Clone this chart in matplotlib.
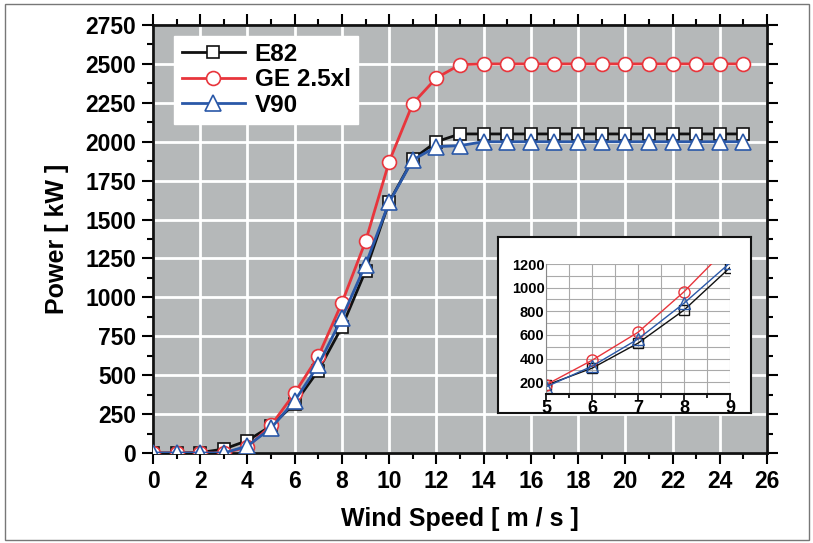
import numpy as np
import matplotlib.pyplot as plt
from matplotlib.patches import Rectangle
from matplotlib.ticker import MultipleLocator

plt.rcParams['font.family'] = ['Liberation Sans', 'DejaVu Sans']
plt.rcParams['font.weight'] = 'bold'

# wind speed [m/s]
wind = list(range(0, 26))

# power curves [kW]
e82 = [0, 0, 3, 25, 80, 174, 318, 530, 810, 1170, 1612, 1888, 2000, 2050,
       2050, 2050, 2050, 2050, 2050, 2050, 2050, 2050, 2050, 2050, 2050, 2050]
ge25 = [0, 0, 0, 0, 38, 178, 385, 622, 965, 1360, 1872, 2245, 2410, 2495,
        2500, 2500, 2500, 2500, 2500, 2500, 2500, 2500, 2500, 2500, 2500, 2500]
v90 = [0, 0, 0, 0, 45, 160, 335, 565, 868, 1210, 1610, 1883, 1968, 1975,
       2000, 2000, 2000, 2000, 2000, 2000, 2000, 2000, 2000, 2000, 2000, 2000]

black = '#111111'
red = '#e8353c'
blue = '#2a58a8'
bg = '#b5b8b9'

fig = plt.figure(figsize=(8.13, 5.43), dpi=100)
fig.patches.append(Rectangle((5 / 813, 3 / 543), 804 / 813, 536 / 543,
                             transform=fig.transFigure, fill=False,
                             edgecolor='#777777', lw=1))

ax = fig.add_axes([153 / 813, 90 / 543, 614 / 813, 428 / 543])
ax.set_facecolor(bg)

ax.plot(wind, e82, color=black, lw=2, marker='s', ms=9, mfc='white',
        mec=black, mew=1.2, label='E82', zorder=3)
ax.plot(wind, ge25, color=red, lw=2, marker='o', ms=10, mfc='white',
        mec=red, mew=1.2, label='GE 2.5xl', zorder=3)
ax.plot(wind, v90, color=blue, lw=2, marker='^', ms=12, mfc='white',
        mec=blue, mew=1.2, label='V90', zorder=4)

ax.set_xlim(0, 26)
ax.set_ylim(0, 2750)
ax.xaxis.set_major_locator(MultipleLocator(2))
ax.xaxis.set_minor_locator(MultipleLocator(1))
ax.yaxis.set_major_locator(MultipleLocator(250))
ax.yaxis.set_minor_locator(MultipleLocator(125))
ax.grid(True, which='major', color='white', lw=2)
ax.set_axisbelow(True)
for s in ax.spines.values():
    s.set_linewidth(2)
    s.set_color(black)
ax.tick_params(which='major', direction='out', length=8, width=1.5,
               labelsize=16.5, pad=4, top=True, right=True)
ax.tick_params(which='minor', direction='out', length=4, width=1.5,
               top=True, right=True)
ax.tick_params(which='both', axis='both', labeltop=False, labelright=False)
for lab in ax.get_xticklabels() + ax.get_yticklabels():
    lab.set_fontweight('bold')

ax.set_xlabel('Wind Speed [ m / s ]', fontsize=18, fontweight='bold', labelpad=10)
ax.set_ylabel('Power [ kW ]', fontsize=18, fontweight='bold', labelpad=12)

leg = ax.legend(loc='upper left', bbox_to_anchor=(0.035, 0.975), fontsize=17.5,
                frameon=True, fancybox=False, framealpha=1, edgecolor='white',
                handlelength=2.6, handletextpad=0.4, borderpad=0.3,
                labelspacing=0.1, borderaxespad=0)
for t in leg.get_texts():
    t.set_fontweight('bold')

# inset
box = fig.add_axes([498 / 813, (543 - 413) / 543, 253 / 813, 176 / 543])
box.set_facecolor('white')
box.set_xticks([])
box.set_yticks([])
for s in box.spines.values():
    s.set_linewidth(1.5)
    s.set_color(black)
box.set_zorder(5)

ins = fig.add_axes([546 / 813, (543 - 394) / 543, 184 / 813, 130 / 543])
ins.set_zorder(6)
ins.set_facecolor('white')
ins.plot(wind, e82, color=black, lw=1, marker='s', ms=7, mfc='none', mec=black, mew=1)
ins.plot(wind, ge25, color=red, lw=1, marker='o', ms=8, mfc='none', mec=red, mew=1)
ins.plot(wind, v90, color=blue, lw=1, marker='^', ms=8, mfc='none', mec=blue, mew=1)
ins.set_xlim(5, 9)
ins.set_ylim(100, 1200)
ins.xaxis.set_major_locator(MultipleLocator(1))
ins.xaxis.set_minor_locator(MultipleLocator(0.5))
ins.set_yticks([200, 400, 600, 800, 1000, 1200])
ins.yaxis.set_minor_locator(MultipleLocator(100))
ins.grid(True, which='both', color='#aaaaaa', lw=0.8)
ins.set_axisbelow(True)
ins.spines['top'].set_visible(False)
ins.spines['right'].set_visible(False)
ins.spines['left'].set_color('#888888')
ins.spines['bottom'].set_color(black)
ins.spines['bottom'].set_linewidth(1.5)
ins.tick_params(axis='x', which='major', length=4, width=1.2, labelsize=13, pad=0)
ins.tick_params(axis='x', which='minor', length=3, width=1.2)
ins.tick_params(axis='y', which='both', length=0, labelsize=10.5, pad=1)
for lab in ins.get_xticklabels() + ins.get_yticklabels():
    lab.set_fontweight('bold')

fig.savefig('out.png', dpi=100)
